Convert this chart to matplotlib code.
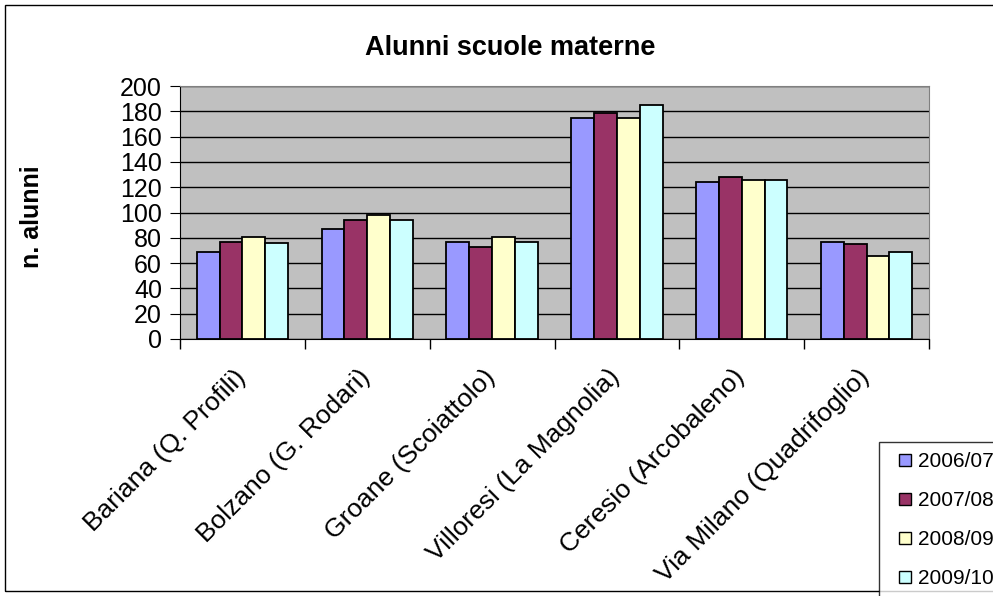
import matplotlib.pyplot as plt
import matplotlib.patches as mpatches
import matplotlib.transforms as mtransforms
from matplotlib.lines import Line2D
import numpy as np

plt.rcParams['font.family'] = ['Liberation Sans', 'DejaVu Sans']

scuole = ['Bariana (Q. Profili)', 'Bolzano (G. Rodari)', 'Groane (Scoiattolo)',
          'Villoresi (La Magnolia)', 'Ceresio (Arcobaleno)', 'Via Milano (Quadrifoglio)']
anni = ['2006/07', '2007/08', '2008/09', '2009/10']
a2006 = [69, 87, 77, 175, 124, 77]
a2007 = [77, 94, 73, 179, 128, 75]
a2008 = [81, 98, 81, 175, 126, 66]
a2009 = [76, 94, 77, 185, 126, 69]
colori = ['#9999FF', '#993366', '#FFFFCC', '#CCFFFF']

W, H = 993, 596
fig = plt.figure(figsize=(W / 100, H / 100), dpi=100)
ax = fig.add_axes([180 / W, 1 - 339 / H, (929 - 180) / W, (339 - 86) / H])
ax.set_facecolor('#C0C0C0')

x = np.arange(len(scuole))
w = 0.183
for i, serie in enumerate([a2006, a2007, a2008, a2009]):
    ax.bar(x + (i - 1.5) * w, serie, w, color=colori[i], edgecolor='black',
           linewidth=1.3, label=anni[i], zorder=3)

ax.set_xlim(-0.5, len(scuole) - 0.5)
ax.set_ylim(0, 200)
ax.set_yticks(range(0, 201, 20))
ax.yaxis.grid(True, color='black', linewidth=1, zorder=1)
ax.set_xticks(np.arange(-0.5, len(scuole), 1))
ax.set_xticklabels([])
ax.tick_params(axis='x', which='major', length=7, direction='out', width=1)
ax.tick_params(axis='y', length=7, direction='out', labelsize=18, pad=6)

# etichette delle scuole, spostate un po' a sinistra come in Excel
sposta = mtransforms.ScaledTranslation(-9 / 100, -26 / 100, fig.dpi_scale_trans)
for xi, nome in zip(x, scuole):
    ax.text(xi, 0, nome, rotation=45, ha='right', va='top',
            rotation_mode='anchor', fontsize=19,
            transform=ax.get_xaxis_transform() + sposta)

for s in ['top', 'right']:
    ax.spines[s].set_color('#808080')
for s in ['left', 'bottom']:
    ax.spines[s].set_color('black')

fig.text(510 / W, 1 - 48 / H, 'Alunni scuole materne', ha='center', va='center',
         fontsize=19.5, fontweight='bold')
fig.text(32 / W, 1 - 217 / H, 'n. alunni', ha='center', va='center',
         rotation=90, fontsize=18, fontweight='bold')

maniglie = [Line2D([], [], linestyle='none', marker='s', markersize=8.4,
                   markerfacecolor=c, markeredgecolor='black', markeredgewidth=1)
            for c in colori]
leg = fig.legend(maniglie, anni, loc='upper left',
                 bbox_to_anchor=(879 / W, 1 - 442 / H),
                 fontsize=15, frameon=True, fancybox=False, handlelength=1.48,
                 handletextpad=-0.12, labelspacing=0.95,
                 borderpad=0.5, borderaxespad=0)
leg.get_frame().set_edgecolor('black')
leg.get_frame().set_linewidth(1)

fig.patches.append(mpatches.Rectangle((5 / W, 5 / H), 1.2, 1 - 10 / H,
                                      transform=fig.transFigure, fill=False,
                                      edgecolor='black', linewidth=1))

fig.savefig('out.png', dpi=100)
